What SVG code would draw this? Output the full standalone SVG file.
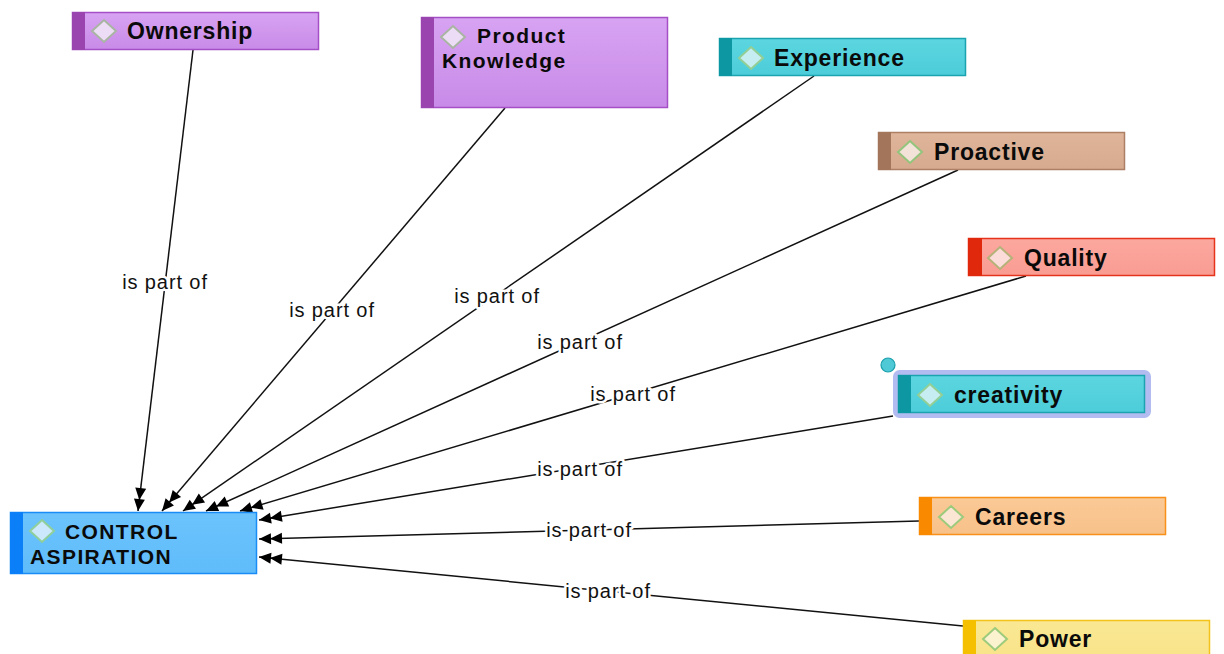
<svg xmlns="http://www.w3.org/2000/svg" width="1224" height="654" viewBox="0 0 1224 654">
  <defs>
    <style>
      .label { font-family: "Liberation Sans", Arial, sans-serif; font-size: 20px; letter-spacing: 0.9px; fill: #111; stroke: #fff; stroke-width: 5px; paint-order: stroke; stroke-linejoin: round; }
      .name { font-family: "Liberation Sans", Arial, sans-serif; font-size: 23px; font-weight: bold; letter-spacing: 0.8px; fill: #0a0a0a; }
      .name2 { font-family: "Liberation Sans", Arial, sans-serif; font-size: 21px; font-weight: bold; letter-spacing: 1.4px; fill: #0a0a0a; }
      .edge { fill: none; stroke: #111; stroke-width: 1.5; marker-end: url(#dbl); }
      .purple .box { fill: url(#gPurple); stroke: #a44fc6; }
      .purple .bar { fill: #9a44b0; }
      .purple .dia { fill: #eddcf5; stroke: #a9b5a3; }
      .teal .box { fill: url(#gTeal); stroke: #1ba3b0; }
      .teal .bar { fill: #0d97a3; }
      .teal .dia { fill: #c6eef2; stroke: #93cf95; }
      .tan .box { fill: url(#gTan); stroke: #ad7f64; }
      .tan .bar { fill: #a3765c; }
      .tan .dia { fill: #f2e2d8; stroke: #93c47c; }
      .red .box { fill: url(#gRed); stroke: #e6341c; }
      .red .bar { fill: #e0280c; }
      .red .dia { fill: #fbdcd9; stroke: #b5b27a; }
      .orange .box { fill: url(#gOrange); stroke: #f8901a; }
      .orange .bar { fill: #f98a00; }
      .orange .dia { fill: #fbe6d3; stroke: #9ccb7c; }
      .yellow .box { fill: url(#gYellow); stroke: #f4c21a; }
      .yellow .bar { fill: #f5c000; }
      .yellow .dia { fill: #fbf3cf; stroke: #9ccb7c; }
      .blue .box { fill: url(#gBlue); stroke: #1a8cf6; }
      .blue .bar { fill: #0a7ff7; }
      .blue .dia { fill: #cbe8fc; stroke: #8fcf9a; }
      .box { stroke-width: 1.5; }
      .dia { stroke-width: 2; }
    </style>
    <linearGradient id="gPurple" x1="0" y1="0" x2="0" y2="1"><stop offset="0" stop-color="#d8a3f3"/><stop offset="1" stop-color="#c88be8"/></linearGradient>
    <linearGradient id="gTeal" x1="0" y1="0" x2="0" y2="1"><stop offset="0" stop-color="#5cd6e0"/><stop offset="1" stop-color="#4ccdd9"/></linearGradient>
    <linearGradient id="gTan" x1="0" y1="0" x2="0" y2="1"><stop offset="0" stop-color="#dfb59b"/><stop offset="1" stop-color="#d6aa8e"/></linearGradient>
    <linearGradient id="gRed" x1="0" y1="0" x2="0" y2="1"><stop offset="0" stop-color="#fca89f"/><stop offset="1" stop-color="#f99c92"/></linearGradient>
    <linearGradient id="gOrange" x1="0" y1="0" x2="0" y2="1"><stop offset="0" stop-color="#fac996"/><stop offset="1" stop-color="#f8c18a"/></linearGradient>
    <linearGradient id="gYellow" x1="0" y1="0" x2="0" y2="1"><stop offset="0" stop-color="#fae894"/><stop offset="1" stop-color="#f8e388"/></linearGradient>
    <linearGradient id="gBlue" x1="0" y1="0" x2="0" y2="1"><stop offset="0" stop-color="#6cc3fc"/><stop offset="1" stop-color="#5fbcfa"/></linearGradient>
    <!-- double filled arrowhead -->
    <marker id="dbl" viewBox="0 -6 24 12" refX="24" refY="0" markerWidth="24" markerHeight="12" markerUnits="userSpaceOnUse" orient="auto">
      <path d="M24,0 L12,-5.5 L12,5.5 Z M13,0 L1,-5.5 L1,5.5 Z" fill="#000"/>
    </marker>
  </defs>

  <rect width="1224" height="654" fill="#fff"/>

  <g id="connectors">
    <line class="edge" x1="193" y1="50" x2="138" y2="511"/>
    <line class="edge" x1="505" y1="108" x2="162" y2="511"/>
    <line class="edge" x1="814" y1="76" x2="183" y2="511"/>
    <line class="edge" x1="958" y1="170" x2="206" y2="511"/>
    <line class="edge" x1="1026" y1="276" x2="240" y2="511"/>
    <line class="edge" x1="893" y1="416" x2="259" y2="520"/>
    <line class="edge" x1="919" y1="521" x2="259" y2="539"/>
    <line class="edge" x1="963" y1="626" x2="259" y2="557"/>
    <text class="label" x="165" y="289" text-anchor="middle">is part of</text>
    <text class="label" x="332" y="317" text-anchor="middle">is part of</text>
    <text class="label" x="497" y="303" text-anchor="middle">is part of</text>
    <text class="label" x="580" y="349" text-anchor="middle">is part of</text>
    <text class="label" x="633" y="401" text-anchor="middle">is part of</text>
    <text class="label" x="580" y="476" text-anchor="middle">is part of</text>
    <text class="label" x="589" y="537" text-anchor="middle">is part of</text>
    <text class="label" x="608" y="598" text-anchor="middle">is part of</text>
  </g>

  <g id="ownership" class="purple">
    <rect class="box" x="72.5" y="12.5" width="246" height="37"/>
    <rect class="bar" x="72" y="12" width="13" height="38"/>
    <path class="dia" d="M104,20 L116,31 L104,42 L92,31 Z"/>
    <text class="name" x="127" y="39">Ownership</text>
  </g>

  <g id="product-knowledge" class="purple">
    <rect class="box" x="421.5" y="17.5" width="246" height="90"/>
    <rect class="bar" x="421" y="17" width="13" height="91"/>
    <path class="dia" d="M453,26 L465,37 L453,48 L441,37 Z"/>
    <text class="name2"><tspan x="477" y="43">Product</tspan><tspan x="442" y="67.5">Knowledge</tspan></text>
  </g>

  <g id="experience" class="teal">
    <rect class="box" x="719.5" y="38.5" width="246" height="37"/>
    <rect class="bar" x="719" y="38" width="13" height="38"/>
    <path class="dia" d="M751,47 L763,58 L751,69 L739,58 Z"/>
    <text class="name" x="774" y="66">Experience</text>
  </g>

  <g id="proactive" class="tan">
    <rect class="box" x="878.5" y="132.5" width="246" height="37"/>
    <rect class="bar" x="878" y="132" width="13" height="38"/>
    <path class="dia" d="M910,141 L922,152 L910,163 L898,152 Z"/>
    <text class="name" x="934" y="160">Proactive</text>
  </g>

  <g id="quality" class="red">
    <rect class="box" x="968.5" y="238.5" width="246" height="37"/>
    <rect class="bar" x="968" y="238" width="14" height="38"/>
    <path class="dia" d="M1000,247 L1012,258 L1000,269 L988,258 Z"/>
    <text class="name" x="1024" y="266">Quality</text>
  </g>

  <g id="creativity" class="teal">
    <rect x="894.5" y="371.5" width="255" height="45" rx="5" fill="#b3bcf0" stroke="#b3bcf0" stroke-width="3"/>
    <rect class="box" x="898.5" y="375.5" width="246" height="37"/>
    <rect class="bar" x="898" y="375" width="13" height="38"/>
    <path class="dia" d="M930,384 L942,395 L930,406 L918,395 Z"/>
    <text class="name" x="954" y="403">creativity</text>
    <circle cx="888" cy="365" r="7" fill="#4fc9d5" stroke="#1a9fab" stroke-width="1.2"/>
  </g>

  <g id="careers" class="orange">
    <rect class="box" x="919.5" y="497.5" width="246" height="37"/>
    <rect class="bar" x="919" y="497" width="13" height="38"/>
    <path class="dia" d="M951,506 L963,517 L951,528 L939,517 Z"/>
    <text class="name" x="975" y="525">Careers</text>
  </g>

  <g id="power" class="yellow">
    <rect class="box" x="963.5" y="620.5" width="246" height="40"/>
    <rect class="bar" x="963" y="620" width="13" height="40"/>
    <path class="dia" d="M995,628 L1007,639 L995,650 L983,639 Z"/>
    <text class="name" x="1019" y="647">Power</text>
  </g>

  <g id="control-aspiration" class="blue">
    <rect class="box" x="10.5" y="512.5" width="246" height="61"/>
    <rect class="bar" x="10" y="512" width="13" height="62"/>
    <path class="dia" d="M42,520 L54,531 L42,542 L30,531 Z"/>
    <text class="name2"><tspan x="65" y="539">CONTROL</tspan><tspan x="30" y="563.5">ASPIRATION</tspan></text>
  </g>
</svg>
